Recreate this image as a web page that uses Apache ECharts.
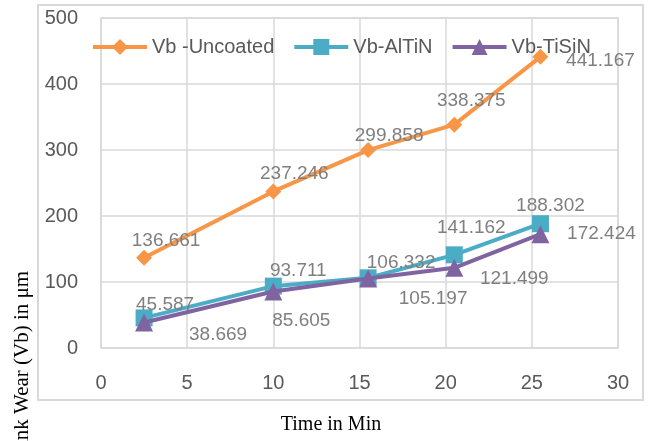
<!DOCTYPE html>
<html>
<head>
<meta charset="utf-8">
<script src="https://cdn.jsdelivr.net/npm/echarts@6/dist/echarts.min.js"></script>
<style>
	html, body { margin: 0; padding: 0; background: #fff; }
	#chart { width: 653px; height: 441px; }
</style>
</head>
<body>
<div id="chart"></div>
<script>
	// data
	const timeMin = [2.5, 10, 15.5, 20.5, 25.5];
	const vbUncoated = [136.661, 237.246, 299.858, 338.375, 441.167];
	const vbAlTiN = [45.587, 93.711, 106.332, 141.162, 188.302];
	const vbTiSiN = [38.669, 85.605, 105.197, 121.499, 172.424];
	const seriesNames = ['Vb -Uncoated', 'Vb-AlTiN', 'Vb-TiSiN'];
	const xTicks = [0, 5, 10, 15, 20, 25, 30];
	const yTicks = [0, 100, 200, 300, 400, 500];

	// label nudges (px), like the hand-moved labels of the original
	const labelShift = [
		[[22, -17], [21, -18], [21, -14], [17, -24], [60, 4]],
		[[21, -13], [25, -15], [33, -15], [17, -27], [10, -18]],
		[[74, 12], [28, 29], [65, 20], [60, 11], [61, 0]]
	];

	const colors = ['#F79646', '#4BACC6', '#8064A2'];
	const symbols = ['diamond', 'rect', 'triangle'];
	const symbolSizes = [16, 17, 18];
	const values = [vbUncoated, vbAlTiN, vbTiSiN];

	const chart = echarts.init(document.getElementById('chart'));

	const series = seriesNames.map((name, i) => ({
		name: name,
		type: 'line',
		symbol: symbols[i],
		symbolSize: symbolSizes[i],
		itemStyle: { color: colors[i] },
		lineStyle: { color: colors[i], width: 4 },
		data: values[i].map((v, j) => ({
			value: [timeMin[j], v],
			label: { offset: labelShift[i][j] }
		})),
		label: {
			show: true,
			position: 'inside',
			color: '#7f7f7f',
			fontFamily: 'Liberation Sans',
			fontSize: 19,
			formatter: p => String(p.value[1])
		},
		z: 2 + i
	}));

	const option = {
		animation: false,
		color: colors,
		grid: {
			left: 101,
			right: 35,
			top: 18,
			bottom: 93,
			show: true,
			borderColor: '#d9d9d9',
			borderWidth: 1.5
		},
		legend: {
			data: seriesNames,
			left: 86,
			top: 32,
			itemWidth: 54,
			itemHeight: 20,
			itemGap: 18,
			lineStyle: { width: 4 },
			textStyle: {
				color: '#595959',
				fontFamily: 'Liberation Sans',
				fontSize: 20
			}
		},
		xAxis: {
			type: 'value',
			min: xTicks[0],
			max: xTicks[xTicks.length - 1],
			interval: xTicks[1] - xTicks[0],
			axisLine: { show: false },
			axisTick: { show: false },
			splitLine: { lineStyle: { color: '#d9d9d9', width: 1.5 } },
			axisLabel: {
				color: '#595959',
				fontFamily: 'Liberation Sans',
				fontSize: 20,
				margin: 25
			}
		},
		yAxis: {
			type: 'value',
			min: yTicks[0],
			max: yTicks[yTicks.length - 1],
			interval: yTicks[1] - yTicks[0],
			axisLine: { show: false },
			axisTick: { show: false },
			splitLine: { lineStyle: { color: '#d9d9d9', width: 1.5 } },
			axisLabel: {
				color: '#595959',
				fontFamily: 'Liberation Sans',
				fontSize: 20,
				margin: 23
			}
		},
		graphic: [
			{
				type: 'rect',
				shape: { x: 38, y: 5, width: 605, height: 395 },
				style: { fill: 'none', stroke: '#d9d9d9', lineWidth: 2 },
				silent: true
			},
			{
				type: 'text',
				x: 22,
				y: 369,
				rotation: Math.PI / 2,
				style: {
					text: 'Flank Wear (Vb) in μm',
					fill: '#000',
					font: '21px "Liberation Serif"',
					textAlign: 'center',
					textVerticalAlign: 'middle'
				}
			},
			{
				type: 'text',
				x: 331,
				y: 425,
				style: {
					text: 'Time in Min',
					fill: '#000',
					font: '20px "Liberation Serif"',
					textAlign: 'center',
					textVerticalAlign: 'middle'
				}
			}
		],
		series: series
	};

	chart.setOption(option);
</script>
</body>
</html>
